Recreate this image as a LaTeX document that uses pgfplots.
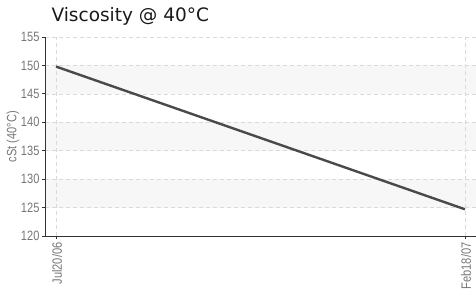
\documentclass[border=0pt]{standalone}
\usepackage{pgfplots}
\pgfplotsset{compat=1.18}
\usepackage{fontspec}
\setmainfont{Liberation Sans}
\newfontfamily\titlefont{DejaVu Sans}
\newfontfamily\narrowfont[FakeStretch=0.82]{Liberation Sans}
\definecolor{bandc}{HTML}{F7F7F7}
\definecolor{gridc}{HTML}{D9D9D9}
\definecolor{axc}{HTML}{333333}
\definecolor{labc}{HTML}{777777}
\definecolor{linec}{HTML}{4A4A4A}
\begin{document}
\begin{tikzpicture}[x=1pt,y=1pt]
\begin{axis}[
  set layers,
  at={(0,0)}, anchor=south west,
  scale only axis, width=431pt, height=199pt,
  xmin=-0.027, xmax=1.027, ymin=120, ymax=155,
  axis x line*=bottom, axis y line*=left,
  axis line style={axc, line width=0.9pt},
  xtick={0,1}, xticklabels={Jul20/06,Feb18/07},
  ytick={120,125,...,155},
  tick align=outside, major tick length=3pt,
  tick style={axc, line width=0.9pt},
  xticklabel style={rotate=90, anchor=east, font=\narrowfont\fontsize{13.5}{14}\selectfont, text=labc, yshift=-1pt},
  yticklabel style={font=\narrowfont\fontsize{13.5}{14}\selectfont, text=labc, xshift=1pt},
  /pgf/number format/assume math mode=true,
  grid=major,
  major grid style={gridc, dash pattern=on 4pt off 3pt, line width=0.7pt},
  ylabel={cSt (40°C)},
  ylabel style={font=\narrowfont\fontsize{13.5}{14}\selectfont, text=labc, yshift=-5pt},
  title={Viscosity @ 40°C},
  title style={at={(0,1)}, anchor=south west, xshift=3pt, yshift=2pt, font=\titlefont\fontsize{18.5}{20}\selectfont, text=black!90},
]
\addplot[on layer=axis background, fill=bandc, draw=none] coordinates {(-0.027,145) (1.027,145) (1.027,150) (-0.027,150)} -- cycle;
\addplot[on layer=axis background, fill=bandc, draw=none] coordinates {(-0.027,135) (1.027,135) (1.027,140) (-0.027,140)} -- cycle;
\addplot[on layer=axis background, fill=bandc, draw=none] coordinates {(-0.027,125) (1.027,125) (1.027,130) (-0.027,130)} -- cycle;
\addplot[linec, line width=2.4pt, mark=none] coordinates {(0,149.8) (1,124.7)};
\end{axis}
\pgfresetboundingbox
\path (-45pt,-57pt) rectangle (431pt,236pt);
\end{tikzpicture}
\end{document}
